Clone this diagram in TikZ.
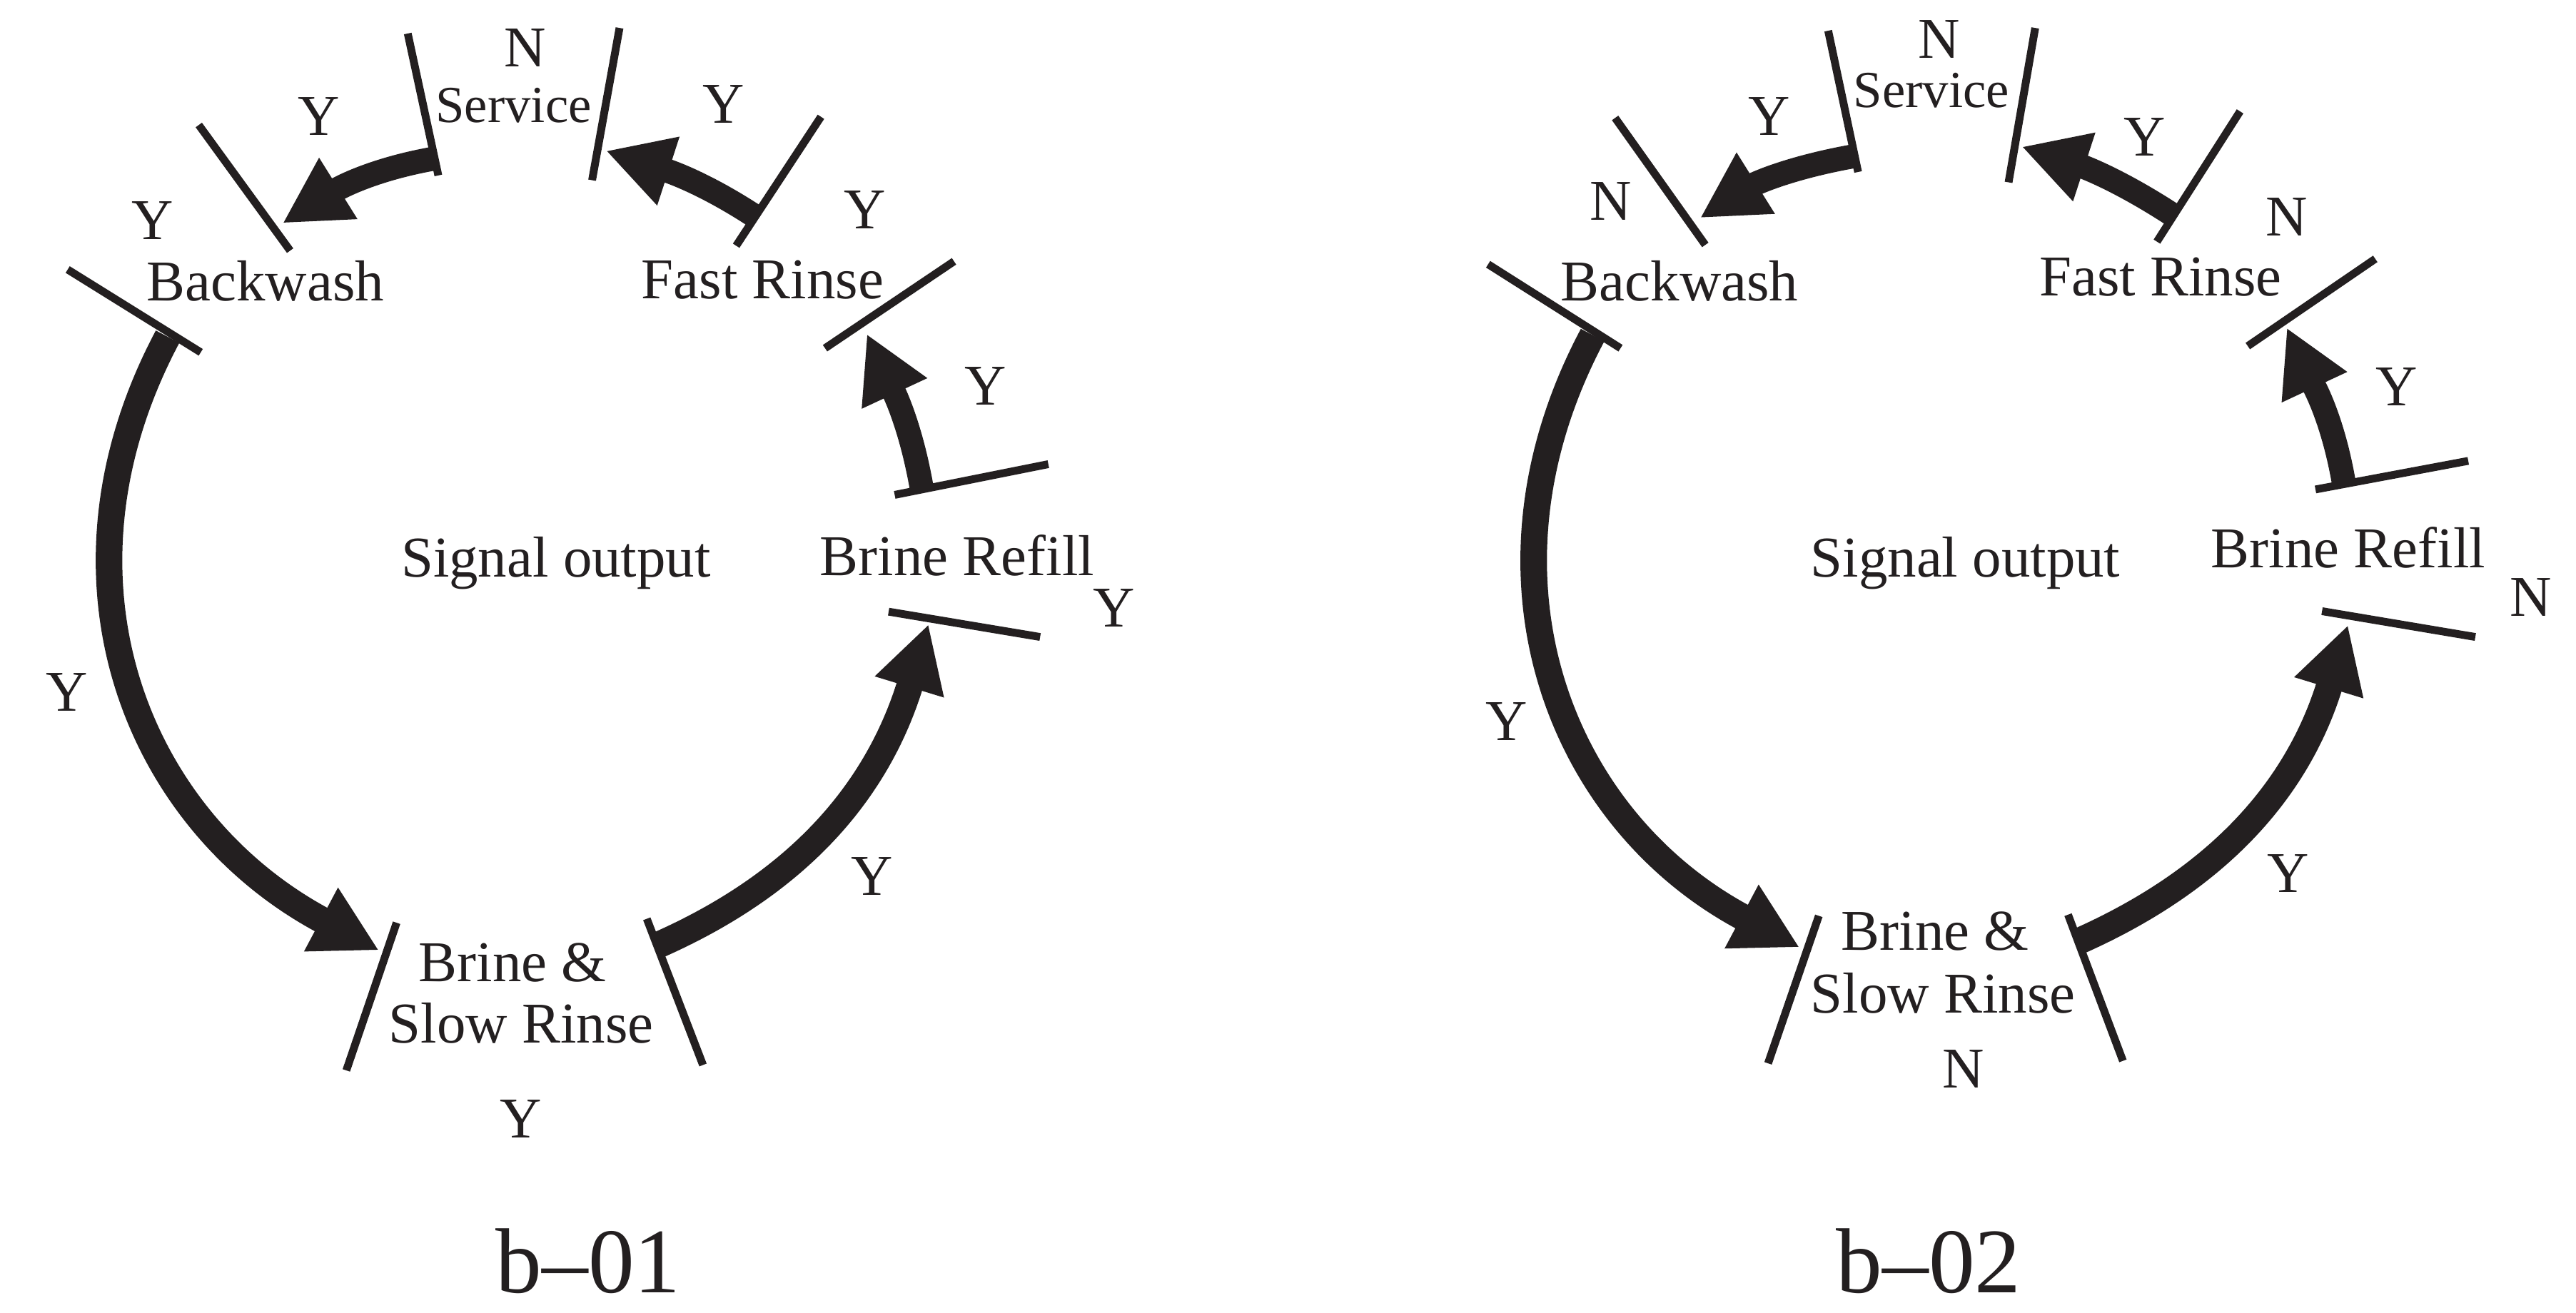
\documentclass[tikz,border=0pt]{standalone}
\usepackage{fontspec}
\setmainfont{Liberation Serif}
\usetikzlibrary{arrows.meta}
\definecolor{ink}{HTML}{231F20}

\begin{document}
\begin{tikzpicture}[x=0.02cm, y=-0.02cm, color=ink,
    lbl/.style={font=\fontsize{20}{21.5}\selectfont, anchor=base, inner sep=0pt},
    tick/.style={line width=2.7pt},
    flow/.style={line width=8.3pt, -{Triangle[length=0.8cm, width=0.82cm]}},
    bigflow/.style={flow, line width=9.2pt}]
    \path[use as bounding box, fill=white] (0,0) rectangle (1568,799);

    % b-01
    \node[lbl] (svn1) at (319.6,40.5) {N};
    \node[lbl, font=\fontsize{18}{19}\selectfont] (svc1) at (312.6,74.3) {Service};
    \node[lbl] (bw1) at (161.5,183.3) {Backwash};
    \node[lbl] (fr1) at (464.2,181.6) {Fast Rinse};
    \node[lbl] (sig1) at (338.4,351.2) {Signal output};
    \node[lbl] (br1) at (582.6,350.4) {Brine Refill};
    \node[lbl] (bs1) at (312,597.5) {Brine \&};
    \node[lbl] (sr1) at (317.2,634.9) {Slow Rinse};
    \node[lbl, font=\fontsize{32}{32}\selectfont] (cap1) at (358,787) {b--01};

    \node[lbl] (y11) at (194.2,82.3) {Y};
    \node[lbl] (y12) at (440.4,74.8) {Y};
    \node[lbl] (y13) at (92.8,145.9) {Y};
    \node[lbl] (y14) at (526.4,139.2) {Y};
    \node[lbl] (y15) at (599.7,246.4) {Y};
    \node[lbl] (y16) at (678,381.6) {Y};
    \node[lbl] (y17) at (40.9,432.9) {Y};
    \node[lbl] (y18) at (530.9,545.2) {Y};
    \node[lbl] (y19) at (317,692.8) {Y};

    \draw[tick] (248.2,20.4) -- (266.8,106.8);
    \draw[tick] (377.1,17) -- (360.4,109.7);
    \draw[tick] (121,76.1) -- (176.6,152.6);
    \draw[tick] (41.2,164.1) -- (122.2,214.5);
    \draw[tick] (499.7,71.1) -- (448.1,149.6);
    \draw[tick] (580.7,159.1) -- (502.2,212);
    \draw[tick] (544.6,301.3) -- (638.1,282.6);
    \draw[tick] (540.9,372.4) -- (633.1,387.8);
    \draw[tick] (241.4,561.8) -- (210.8,651.7);
    \draw[tick] (393.7,559.4) -- (427.9,648.4);

    \coordinate (svo1) at (264.5,96.5);
    \coordinate (bwi1) at (172,135.9);
    \coordinate (fro1) at (458.5,131);
    \coordinate (svi1) at (368.8,91.8);
    \coordinate (bro1) at (561,297);
    \coordinate (fri1) at (527.6,203.3);
    \coordinate (bwo1) at (102,205);
    \coordinate (bsi1) at (230.7,578.6);
    \coordinate (bso1) at (401.5,575);
    \coordinate (bri1) at (565.2,380);

    \draw[flow] (svo1) to[out=190, in=32] (bwi1);
    \draw[flow] (fro1) to[out=147, in=342] (svi1);
    \draw[flow] (bro1) to[out=100, in=295] (fri1);
    \draw[bigflow] (bwo1) to[out=242, in=152, looseness=1.08] (bsi1);
    \draw[bigflow] (bso1) to[out=24, in=253] (bri1);

    % b-02
    \node[lbl] (svn2) at (1180.2,35.5) {N};
    \node[lbl, font=\fontsize{18}{19}\selectfont] (svc2) at (1175.7,65.3) {Service};
    \node[lbl] (bw2) at (1022.3,183.3) {Backwash};
    \node[lbl] (fr2) at (1315.1,180.1) {Fast Rinse};
    \node[lbl] (sig2) at (1196.3,351.2) {Signal output};
    \node[lbl] (br2) at (1429.4,345.4) {Brine Refill};
    \node[lbl] (bs2) at (1177.9,578.6) {Brine \&};
    \node[lbl] (sr2) at (1182.7,616.7) {Slow Rinse};
    \node[lbl, font=\fontsize{32}{32}\selectfont] (cap2) at (1174,787) {b--02};

    \node[lbl] (y21) at (1076.7,82.3) {Y};
    \node[lbl] (n22) at (980.6,134.2) {N};
    \node[lbl] (y23) at (1305.4,94.8) {Y};
    \node[lbl] (n24) at (1391.9,143.4) {N};
    \node[lbl] (y25) at (1458.8,246.9) {Y};
    \node[lbl] (n26) at (1540.6,375.3) {N};
    \node[lbl] (y27) at (917,450.9) {Y};
    \node[lbl] (y28) at (1392.7,543.1) {Y};
    \node[lbl] (n29) at (1195.1,662.3) {N};

    \draw[tick] (1112.8,18.7) -- (1131,104.7);
    \draw[tick] (1238.8,17) -- (1222.6,111);
    \draw[tick] (983.1,71.8) -- (1038,149.1);
    \draw[tick] (905.8,160.9) -- (986.4,212);
    \draw[tick] (1363.5,67.8) -- (1312.9,147.1);
    \draw[tick] (1445.8,157.6) -- (1368.2,210.7);
    \draw[tick] (1409.4,298) -- (1502.4,280.6);
    \draw[tick] (1413.4,372.1) -- (1506.7,387.8);
    \draw[tick] (1107.1,557.6) -- (1076.2,647.4);
    \draw[tick] (1258.8,556.9) -- (1292.2,645.9);

    \coordinate (svo2) at (1129,95);
    \coordinate (bwi2) at (1034.8,132.7);
    \coordinate (fro2) at (1322,130.5);
    \coordinate (svi2) at (1230.6,89.3);
    \coordinate (bro2) at (1426.5,293);
    \coordinate (fri2) at (1391.9,199.5);
    \coordinate (bwo2) at (969.4,204);
    \coordinate (bsi2) at (1095.4,576.8);
    \coordinate (bso2) at (1265.5,573);
    \coordinate (bri2) at (1429.2,380.5);

    \draw[flow] (svo2) to[out=190, in=32] (bwi2);
    \draw[flow] (fro2) to[out=147, in=342] (svi2);
    \draw[flow] (bro2) to[out=100, in=295] (fri2);
    \draw[bigflow] (bwo2) to[out=242, in=152, looseness=1.08] (bsi2);
    \draw[bigflow] (bso2) to[out=24, in=253] (bri2);
\end{tikzpicture}
\end{document}
